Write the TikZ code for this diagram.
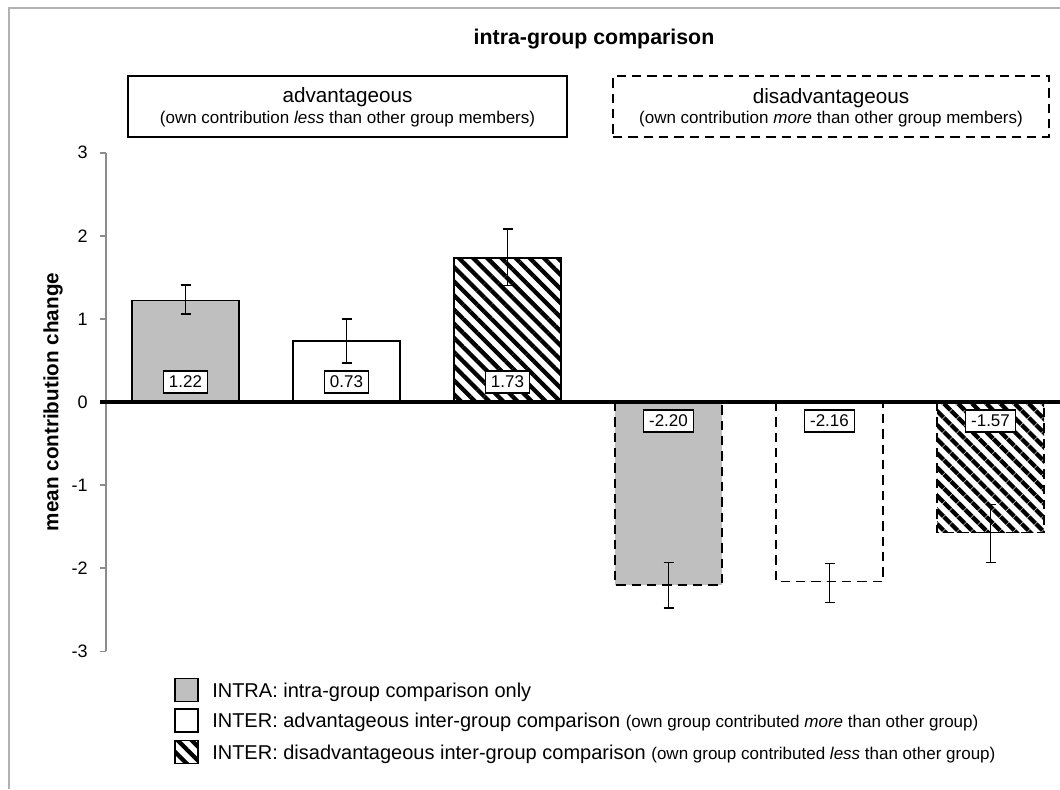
\documentclass[tikz,border=0pt]{standalone}
\usepackage{fontspec}
\setmainfont{Liberation Sans}
\usetikzlibrary{patterns.meta}

\begin{document}
\begin{tikzpicture}[x=0.75pt,y=-0.75pt]
	\tikzstyle{every node}+=[inner sep=0pt]
	\tikzstyle{frameline}=[draw=black!30, line width=1.5pt]
	\tikzstyle{groupbox}=[draw=black, line width=1.2pt, minimum height=45.75pt]
	\tikzstyle{bar}=[draw=black, line width=1.3pt]
	\tikzstyle{intrabar}=[bar, fill=black!25]
	\tikzstyle{advbar}=[bar, fill=white]
	\tikzstyle{disbar}=[bar, pattern={Lines[angle=-45,distance=7.5pt,line width=3.2pt]}]
	\tikzstyle{negbar}=[dash pattern=on 7pt off 4.5pt]
	\tikzstyle{valbox}=[draw=black, fill=white, line width=1pt, inner xsep=4pt, minimum height=16.5pt, font=\fontsize{12.75}{15}\selectfont]
	\tikzstyle{errbar}=[draw=black, line width=1pt]
	\tikzstyle{ticklabel}=[anchor=east, font=\fontsize{13.5}{16}\selectfont]
	\tikzstyle{keytext}=[anchor=base west, font=\fontsize{15}{18}\selectfont]
	\useasboundingbox (0,0) rectangle (1060,789);
	\fill [white] (0,0) rectangle (1060,789);
	\draw [frameline] (9,789) -- (9,8) -- (1060,8);
	% title and group boxes
	\node [anchor=base, font=\bfseries\fontsize{16}{19}\selectfont] (title) at (594,44) {intra-group comparison};
	\node [groupbox, minimum width=329.25pt] (advbox) at (347.5,106.5) {};
	\node [anchor=base, font=\fontsize{15.5}{18}\selectfont] (advname) at (347.5,102) {advantageous};
	\node [anchor=base, font=\fontsize{12.75}{15}\selectfont] (advnote) at (347.5,123) {(own contribution \textit{less} than other group members)};
	\node [groupbox, negbar, minimum width=327pt] (disbox) at (831,106.5) {};
	\node [anchor=base, font=\fontsize{15.5}{18}\selectfont] (disname) at (831,103) {disadvantageous};
	\node [anchor=base, font=\fontsize{12.75}{15}\selectfont] (disnote) at (831,123) {(own contribution \textit{more} than other group members)};
	% y axis title
	\node [rotate=90, font=\bfseries\fontsize{15.5}{18}\selectfont] (ytitle) at (53,402) {mean contribution change};
	% plot, values in data units
	\begin{scope}[shift={(0,402)}, y=62.325pt]
		\draw [draw=black!45, line width=1.2pt] (106,3) -- (106,-3);
		\foreach \t in {-3,...,3} {
			\draw [draw=black!45, line width=1.2pt] (100,\t) -- (106,\t);
			\node [ticklabel] (tick\t) at (88,\t) {\t};
		}
		\foreach \x/\v/\sty [count=\n] in {132/1.22/intrabar, 293/0.73/advbar, 454/1.73/disbar}
			\draw [\sty] (\x,0) rectangle (\x+107,\v);
		\foreach \x/\v/\sty [count=\n] in {615/-2.20/intrabar, 776/-2.16/advbar, 937/-1.57/disbar}
			\draw [\sty, negbar] (\x,0) rectangle (\x+107,\v);
		\draw [black, line width=2.3pt] (100,0) -- (1060,0);
		\foreach \x/\lo/\hi in {132/1.06/1.41, 293/0.47/1.00, 454/1.40/2.08, 615/-1.93/-2.48, 776/-1.94/-2.41, 937/-1.23/-1.93} {
			\draw [errbar] (\x+53.5,\lo) -- (\x+53.5,\hi);
			\draw [errbar] (\x+48.5,\lo) -- (\x+58.5,\lo);
			\draw [errbar] (\x+48.5,\hi) -- (\x+58.5,\hi);
		}
		\foreach \x/\v [count=\n] in {132/1.22, 293/0.73, 454/1.73}
			\node [valbox] (val\n) at (\x+53.5,0.24) {\v};
		\foreach \x/\v [count=\n from 4] in {615/-2.20, 776/-2.16, 937/-1.57}
			\node [valbox] (val\n) at (\x+53.5,-0.23) {\v};
	\end{scope}
	% legend
	\node [intrabar, minimum size=17.25pt] (keyintra) at (186.5,690) {};
	\node [keytext] (txtintra) at (212,697) {INTRA: intra-group comparison only};
	\node [advbar, minimum size=17.25pt] (keyadv) at (186.5,720.5) {};
	\node [keytext] (txtadv) at (212,727.5) {INTER: advantageous inter-group comparison {\fontsize{12.75}{15}\selectfont (own group contributed \textit{more} than other group)}};
	\node [disbar, minimum size=17.25pt] (keydis) at (186.5,752) {};
	\node [keytext] (txtdis) at (212,759) {INTER: disadvantageous inter-group comparison {\fontsize{12.75}{15}\selectfont (own group contributed \textit{less} than other group)}};
\end{tikzpicture}
\end{document}
